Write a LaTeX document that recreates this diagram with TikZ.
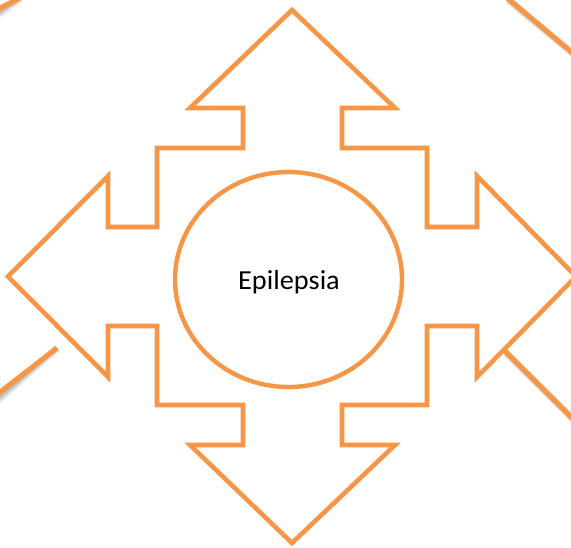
\documentclass[tikz,border=0pt]{standalone}
\usepackage{fontspec}
\setmainfont{Carlito}
\definecolor{accent}{HTML}{F79646}
\begin{document}
\begin{tikzpicture}[x=1pt,y=-1pt,
  outline/.style={draw=accent,line width=4.6pt,line join=miter},
  cornerline/.style={draw=accent,line width=5pt},
  shadowline/.style={draw=black,line width=7pt,opacity=0.12},
  shadowline2/.style={draw=black,line width=4pt,opacity=0.15}]
\useasboundingbox (0,0) rectangle (571,547);
\clip (0,0) rectangle (571,547);
% corner lines with shadows
\foreach \a/\b in {{(-4,10)}/{(20,-2)}, {(505,-4)}/{(576,56)}, {(-5,396)}/{(57,348)}, {(503,349)}/{(575,421)}}{
  \draw[shadowline] \a ++(3,4) -- \b ++(3,4);
  \draw[shadowline2] \a ++(2,3) -- \b ++(2,3);
  \draw[cornerline] \a -- \b;
}
% quad arrow
\draw[outline] (292,10) -- (395,108) -- (342,108) -- (342,148) -- (427,148) -- (427,227)
  -- (477,227) -- (477,176) -- (576,276.5) -- (477,377) -- (477,326) -- (427,326)
  -- (427,405) -- (342,405) -- (342,445) -- (395,445) -- (292,543) -- (190,445)
  -- (243,445) -- (243,405) -- (157,405) -- (157,326) -- (108,326) -- (108,377)
  -- (8,276.5) -- (108,176) -- (108,227) -- (157,227) -- (157,148) -- (243,148)
  -- (243,108) -- (190,108) -- cycle;
% central circle
\draw[accent,line width=4.4pt] (288.5,279.5) ellipse [x radius=113.5, y radius=107.5];
\node[anchor=base,inner sep=0pt] (center) at (289,289.3) {\scalebox{1.03}[1]{\fontsize{27.5}{32}\selectfont Epilepsia}};
\end{tikzpicture}
\end{document}
